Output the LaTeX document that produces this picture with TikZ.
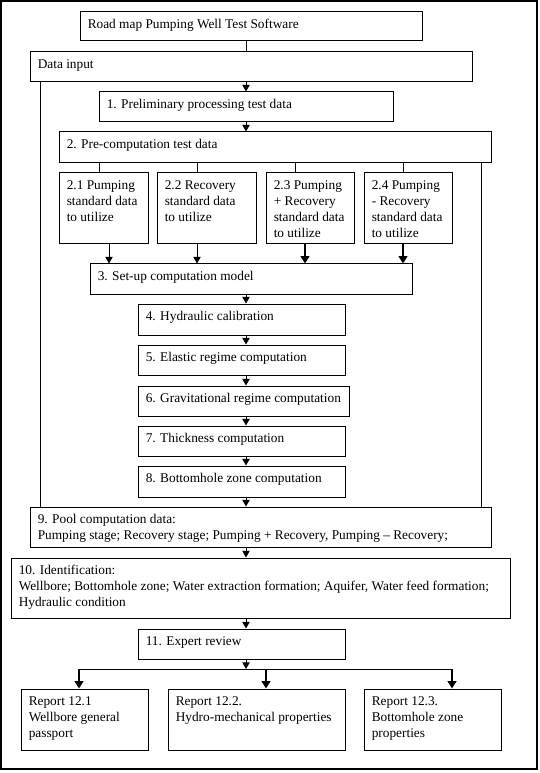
\documentclass[tikz,border=0pt]{standalone}
\usepackage{fontspec}
\setmainfont{Liberation Serif}
\usetikzlibrary{arrows.meta,fit}
\newcommand\bx[6]{%
  \node[box, fit={(#2,#3) (#4,#5)}] (#1) {};
  \node[txt] (#1t) at ([xshift=6pt,yshift=-4pt]#1.north west) {\strut #6};}
\begin{document}
\begin{tikzpicture}[x=0.75pt,y=-0.75pt,
  box/.style={draw, line width=0.75pt, inner sep=0pt},
  txt/.style={anchor=north west, inner sep=0pt, align=left, font=\fontsize{10pt}{12pt}\selectfont},
  arr/.style={line width=0.75pt, -{Triangle[length=5pt,width=5.5pt]}},
  tarr/.style={line width=1.5pt, -{Triangle[length=5.5pt,width=6.5pt]}},
  ln/.style={line width=0.75pt}]
\useasboundingbox (0,0) rectangle (539,773);
\draw[line width=1.2pt] (1,1) rectangle (537,769);
% boxes
\bx{title}{80}{12}{422}{41}{Road map Pumping Well Test Software}
\bx{din}{30}{52}{472}{82}{Data input}
\bx{p1}{99}{92}{393}{122}{1. Preliminary processing test data}
\bx{p2}{59}{132}{491}{163}{2. Pre-computation test data}
\bx{s1}{59}{173}{148}{244}{2.1 Pumping\\standard data\\to utilize}
\bx{s2}{157}{173}{256}{244}{2.2 Recovery\\standard data\\to utilize}
\bx{s3}{266}{173}{354}{244}{2.3 Pumping\\+ Recovery\\standard data\\to utilize}
\bx{s4}{364}{173}{452}{244}{2.4 Pumping\\- Recovery\\standard data\\to utilize}
\bx{p3}{90}{264}{412}{294}{3. Set-up computation model}
\bx{p4}{138}{304}{345}{335}{4. Hydraulic calibration}
\bx{p5}{138}{345}{345}{375}{5. Elastic regime computation}
\bx{p6}{138}{386}{349}{416}{6. Gravitational regime computation}
\bx{p7}{138}{426}{345}{456}{7. Thickness computation}
\bx{p8}{138}{466}{345}{497}{8. Bottomhole zone computation}
\bx{p9}{30}{507}{491}{547}{9. Pool computation data:\\Pumping stage; Recovery stage; Pumping + Recovery, Pumping -- Recovery;}
\bx{p10}{11}{558}{510}{618}{10. Identification:\\Wellbore; Bottomhole zone; Water extraction formation; Aquifer, Water feed formation;\\Hydraulic condition}
\bx{p11}{138}{629}{345}{659}{11. Expert review}
\bx{r1}{21}{689}{148}{750}{Report 12.1\\Wellbore general\\passport}
\bx{r2}{168}{689}{345}{750}{Report 12.2.\\Hydro-mechanical properties}
\bx{r3}{364}{689}{501}{750}{Report 12.3.\\Bottomhole zone\\properties}
% helper coordinates
\coordinate (ax) at (246,0);
\coordinate (lx) at (40,0);
\coordinate (rx) at (481,0);
\coordinate (c1) at (99,0);
\coordinate (c2) at (197,0);
\coordinate (c3) at (295,0);
\coordinate (c4) at (403,0);
\coordinate (a1) at (109,0);
\coordinate (a2) at (197,0);
\coordinate (a3) at (305,0);
\coordinate (a4) at (403,0);
\coordinate (jn) at (246,669);
\coordinate (j1) at (79,669);
\coordinate (j2) at (266,669);
\coordinate (j3) at (452,669);
% connectors
\draw[ln] (title.south -| ax) -- (din.north -| ax);
\draw[arr] (din.south -| ax) -- (p1.north -| ax);
\draw[arr] (p1.south -| ax) -- (p2.north -| ax);
\draw[ln] (din.south -| lx) -- (p9.north -| lx);
\draw[ln] (p2.south -| rx) -- (p9.north -| rx);
\draw[ln] (p2.south -| c1) -- (s1.north -| c1);
\draw[ln] (p2.south -| c2) -- (s2.north -| c2);
\draw[ln] (p2.south -| c3) -- (s3.north -| c3);
\draw[ln] (p2.south -| c4) -- (s4.north -| c4);
\draw[arr] (s1.south -| a1) -- (p3.north -| a1);
\draw[arr] (s2.south -| a2) -- (p3.north -| a2);
\draw[tarr] (s3.south -| a3) -- (p3.north -| a3);
\draw[tarr] (s4.south -| a4) -- (p3.north -| a4);
\draw[arr] (p3.south -| ax) -- (p4.north -| ax);
\draw[arr] (p4.south -| ax) -- (p5.north -| ax);
\draw[arr] (p5.south -| ax) -- (p6.north -| ax);
\draw[arr] (p6.south -| ax) -- (p7.north -| ax);
\draw[arr] (p7.south -| ax) -- (p8.north -| ax);
\draw[arr] (p8.south -| ax) -- (p9.north -| ax);
\draw[arr] (p9.south -| ax) -- (p10.north -| ax);
\draw[arr] (p10.south -| ax) -- (p11.north -| ax);
\draw[arr] (p11.south -| ax) -- (jn);
\draw[ln] (j1) -- (j3);
\draw[tarr] (j1) -- (r1.north -| j1);
\draw[tarr] (j2) -- (r2.north -| j2);
\draw[tarr] (j3) -- (r3.north -| j3);
\end{tikzpicture}
\end{document}
